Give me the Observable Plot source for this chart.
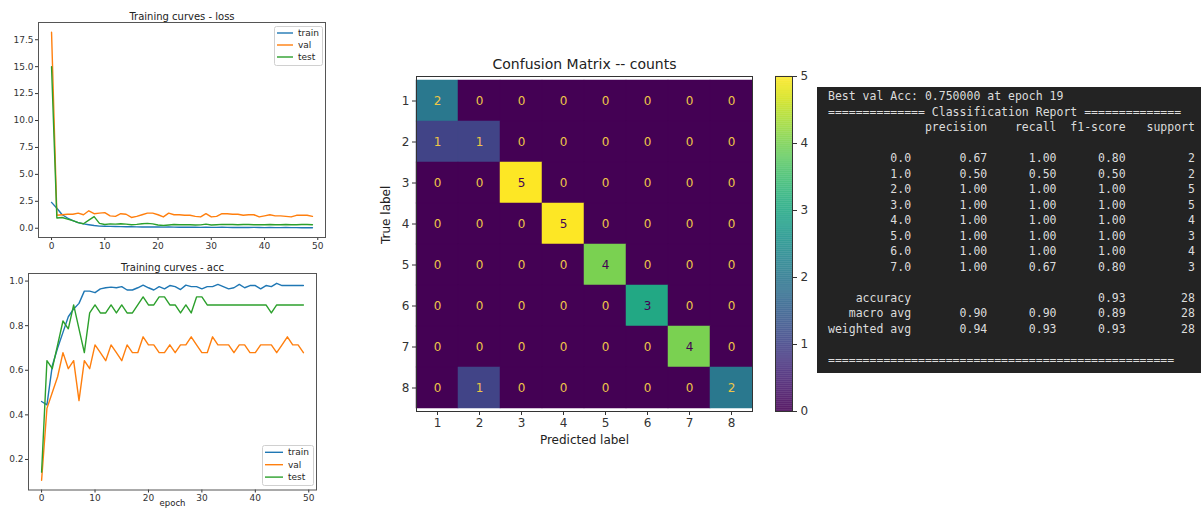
<!DOCTYPE html>
<html><head><meta charset="utf-8">
<script src="https://cdn.jsdelivr.net/npm/d3@7"></script>
<script src="https://cdn.jsdelivr.net/npm/@observablehq/plot@0.6"></script>
<style>
html,body{margin:0;padding:0;background:#fff;}
#root{position:relative;width:1201px;height:510px;overflow:hidden;font-family:"DejaVu Sans",sans-serif;}
.abs{position:absolute;}
.legend{position:absolute;}
#report{position:absolute;left:817px;top:87px;width:384px;height:286px;background:#232323;}
#report pre{margin:0;padding:2px 0 0 11px;font:11.5px/15.5px "DejaVu Sans Mono",monospace;color:#dcdcdc;}
</style></head><body><div id="root"></div>
<script>
// ---------- data ----------
const epochs = [0,1,2,3,4,5,6,7,8,9,10,11,12,13,14,15,16,17,18,19,20,21,22,23,24,25,26,27,28,29,30,31,32,33,34,35,36,37,38,39,40,41,42,43,44,45,46,47,48,49];
const trainLoss = [2.40,1.85,1.25,0.95,0.70,0.52,0.40,0.32,0.25,0.20,0.18,0.17,0.16,0.15,0.14,0.14,0.13,0.12,0.12,0.11,0.11,0.10,0.11,0.10,0.09,0.10,0.09,0.09,0.08,0.09,0.08,0.08,0.09,0.08,0.07,0.08,0.07,0.07,0.08,0.07,0.06,0.07,0.06,0.06,0.07,0.06,0.06,0.05,0.06,0.05];
const valLoss = [18.2,1.20,1.25,1.30,1.30,1.40,1.25,1.62,1.35,1.40,1.45,1.15,1.10,1.35,1.30,1.00,1.10,1.25,1.40,1.40,1.25,1.05,1.40,1.25,1.25,1.20,1.20,1.10,1.05,1.35,1.05,1.10,1.35,1.35,1.30,1.30,1.20,1.25,1.25,1.05,1.15,1.25,1.15,1.15,1.10,1.05,1.20,1.20,1.20,1.10];
const testLoss = [15.0,0.95,1.00,0.85,0.70,0.52,0.42,0.75,1.08,0.45,0.35,0.40,0.38,0.42,0.38,0.32,0.36,0.42,0.45,0.40,0.30,0.26,0.30,0.35,0.33,0.32,0.33,0.30,0.31,0.38,0.30,0.33,0.36,0.35,0.34,0.33,0.35,0.34,0.33,0.32,0.33,0.34,0.33,0.32,0.34,0.33,0.32,0.34,0.35,0.33];
const trainAcc = [0.46,0.445,0.62,0.70,0.77,0.84,0.875,0.90,0.955,0.955,0.948,0.965,0.970,0.973,0.970,0.975,0.960,0.960,0.970,0.982,0.970,0.960,0.975,0.965,0.980,0.975,0.962,0.982,0.975,0.975,0.965,0.975,0.975,0.985,0.975,0.965,0.970,0.985,0.970,0.980,0.980,0.965,0.980,0.975,0.990,0.980,0.980,0.980,0.980,0.980];
const valAcc = [0.107,0.429,0.500,0.571,0.679,0.607,0.643,0.464,0.643,0.607,0.714,0.679,0.643,0.714,0.679,0.643,0.714,0.679,0.679,0.750,0.714,0.714,0.679,0.679,0.714,0.679,0.714,0.714,0.750,0.714,0.679,0.679,0.750,0.714,0.714,0.714,0.679,0.714,0.714,0.679,0.679,0.714,0.714,0.714,0.679,0.714,0.750,0.714,0.714,0.679];
const testAcc = [0.143,0.643,0.607,0.714,0.821,0.786,0.893,0.786,0.679,0.857,0.893,0.857,0.857,0.893,0.857,0.893,0.857,0.857,0.893,0.929,0.893,0.893,0.929,0.929,0.893,0.893,0.857,0.893,0.857,0.929,0.929,0.893,0.893,0.893,0.893,0.893,0.893,0.893,0.893,0.893,0.893,0.893,0.893,0.857,0.893,0.893,0.893,0.893,0.893,0.893];
const epochTicks = [0,10,20,30,40,50];
const lossTicks = [0,2.5,5,7.5,10,12.5,15,17.5];
const accTicks = [0.2,0.4,0.6,0.8,1.0];
const seriesNames = ["train","val","test"];
const seriesColors = ["#1f77b4","#ff7f0e","#2ca02c"];

const cmLabels = ["1","2","3","4","5","6","7","8"];
const confusion = [
  [2,0,0,0,0,0,0,0],
  [1,1,0,0,0,0,0,0],
  [0,0,5,0,0,0,0,0],
  [0,0,0,5,0,0,0,0],
  [0,0,0,0,4,0,0,0],
  [0,0,0,0,0,3,0,0],
  [0,0,0,0,0,0,4,0],
  [0,1,0,0,0,0,0,2]
];
const cbTicks = [0,1,2,3,4,5];

const reportClasses = ["0.0","1.0","2.0","3.0","4.0","5.0","6.0","7.0"];
const precision = [0.67,0.50,1.00,1.00,1.00,1.00,1.00,1.00];
const recall    = [1.00,0.50,1.00,1.00,1.00,1.00,1.00,0.67];
const f1score   = [0.80,0.50,1.00,1.00,1.00,1.00,1.00,0.80];
const support   = [2,2,5,5,4,3,4,3];
const accuracyRow = [0.93,28];
const macroRow = [0.90,0.90,0.89,28];
const weightedRow = [0.94,0.93,0.93,28];

// ---------- layout helpers ----------
const root = document.getElementById("root");
function place(node, left, top) {
  const d = document.createElement("div");
  d.className = "abs"; d.style.left = left + "px"; d.style.top = top + "px";
  d.appendChild(node); root.appendChild(d); return d;
}
const axStyle = {fontFamily: "DejaVu Sans", fontSize: "9px", color: "#333", background: "transparent", overflow: "visible"};

function lineMarks(arrs) {
  return arrs.map((arr, k) => Plot.line(epochs, {x: d => d, y: (d, i) => arr[i], stroke: seriesColors[k], strokeWidth: 1.4}));
}

// ---------- loss ----------
const lossPlot = Plot.plot({
  width: 330, height: 252,
  marginLeft: 38, marginRight: 5, marginTop: 22, marginBottom: 15,
  style: axStyle,
  x: {domain: [-2.45, 51.45], ticks: epochTicks, tickSize: 3, tickPadding: 2, label: null},
  y: {domain: [-0.86, 19.1], ticks: lossTicks, tickFormat: d3.format(".1f"), tickSize: 3, tickPadding: 2, label: null},
  marks: [
    ...lineMarks([trainLoss, valLoss, testLoss]),
    Plot.frame({stroke: "#555"}),
    Plot.text(["Training curves - loss"], {text: d => d, frameAnchor: "top", dy: -10, fontSize: 10, fill: "#222"})
  ]
});
place(lossPlot, 0, 0);

// ---------- acc ----------
const accPlot = Plot.plot({
  width: 330, height: 258,
  marginLeft: 28, marginRight: 14, marginTop: 21, marginBottom: 20.5,
  style: axStyle,
  x: {domain: [-2.45, 51.45], ticks: epochTicks, tickSize: 3, tickPadding: 2, label: null},
  y: {domain: [0.063, 1.034], ticks: accTicks, tickFormat: d3.format(".1f"), tickSize: 3, tickPadding: 2, label: null},
  marks: [
    ...lineMarks([trainAcc, valAcc, testAcc]),
    Plot.frame({stroke: "#555"}),
    Plot.text(["Training curves - acc"], {text: d => d, frameAnchor: "top", dy: -9.5, fontSize: 10, fill: "#222"}),
    Plot.text(["epoch"], {text: d => d, frameAnchor: "bottom", dy: 15.5, fontSize: 8.5, fill: "#222"})
  ]
});
place(accPlot, 0, 252);

// ---------- legends (HTML/SVG) ----------
function legend(left, top, w, h, rowTop, rowGap, swLeft, swW, txtLeft) {
  const ns = "http://www.w3.org/2000/svg";
  const svg = document.createElementNS(ns, "svg");
  svg.setAttribute("width", w + 2); svg.setAttribute("height", h + 2);
  svg.setAttribute("class", "legend");
  svg.style.left = left + "px"; svg.style.top = top + "px";
  const r = document.createElementNS(ns, "rect");
  Object.entries({x: 0.5, y: 0.5, width: w, height: h, rx: 2, fill: "rgba(255,255,255,0.85)", stroke: "#d0d0d0", "stroke-width": 1}).forEach(([k, v]) => r.setAttribute(k, v));
  svg.appendChild(r);
  seriesNames.forEach((n, i) => {
    const cy = rowTop + rowGap * i;
    const l = document.createElementNS(ns, "line");
    Object.entries({x1: swLeft, x2: swLeft + swW, y1: cy, y2: cy, stroke: seriesColors[i], "stroke-width": 1.4}).forEach(([k, v]) => l.setAttribute(k, v));
    const t = document.createElementNS(ns, "text");
    Object.entries({x: txtLeft, y: cy, dy: "0.35em", fill: "#262626", "font-size": "9px", "font-family": "DejaVu Sans"}).forEach(([k, v]) => t.setAttribute(k, v));
    t.textContent = n;
    svg.appendChild(l); svg.appendChild(t);
  });
  root.appendChild(svg);
}
legend(274, 26, 48, 39, 7, 12, 3, 16, 24);
legend(262, 445, 51, 40, 7.3, 12.4, 3, 18, 26);

// ---------- confusion matrix ----------
const cmData = cmLabels.flatMap((t, i) => cmLabels.map((p, j) => ({t, p, v: confusion[i][j]})));
const cmPlot = Plot.plot({
  width: 385, height: 420,
  marginLeft: 41, marginRight: 8, marginTop: 36, marginBottom: 49,
  style: {fontFamily: "DejaVu Sans", fontSize: "12px", color: "#333", background: "transparent", overflow: "visible"},
  x: {domain: cmLabels, padding: 0, tickSize: 4, tickPadding: 3, label: null},
  y: {domain: cmLabels, padding: 0, tickSize: 4, tickPadding: 3, label: null},
  color: {type: "linear", scheme: "viridis", domain: [0, 5]},
  marks: [
    Plot.cell(cmData, {x: "p", y: "t", fill: "v", stroke: "v", strokeWidth: 0.5, inset: 0}),
    Plot.text(cmData.filter(d => d.v < 2.5), {x: "p", y: "t", text: d => String(d.v), fill: "#eec648", fontSize: 12}),
    Plot.text(cmData.filter(d => d.v >= 2.5), {x: "p", y: "t", text: d => String(d.v), fill: "#440154", fontSize: 12}),
    Plot.frame({stroke: "#333"}),
    Plot.text(["Confusion Matrix -- counts"], {text: d => d, frameAnchor: "top", dy: -17, fontSize: 14, fill: "#222"}),
    Plot.text(["Predicted label"], {text: d => d, frameAnchor: "bottom", dy: 32, fontSize: 12, fill: "#222"}),
    Plot.text(["True label"], {text: d => d, frameAnchor: "left", dx: -30, rotate: -90, fontSize: 12, fill: "#222"})
  ]
});
place(cmPlot, 375, 40);

// ---------- colorbar ----------
const cbSteps = d3.range(0, 5, 0.01);
const cbPlot = Plot.plot({
  width: 70, height: 420,
  marginLeft: 15, marginRight: 38, marginTop: 36, marginBottom: 49,
  style: {fontFamily: "DejaVu Sans", fontSize: "12px", color: "#333", background: "transparent", overflow: "visible"},
  x: {domain: [0, 1], axis: null},
  y: {domain: [0, 5], ticks: cbTicks, tickFormat: d3.format("d"), tickSize: 4, tickPadding: 4, axis: "right", label: null},
  color: {type: "linear", scheme: "viridis", domain: [0, 5]},
  marks: [
    Plot.rect(cbSteps, {x1: 0, x2: 1, y1: d => d, y2: d => d + 0.012, fill: d => d}),
    Plot.frame({stroke: "#333"})
  ]
});
place(cbPlot, 760, 40);

// ---------- classification report ----------
const f2 = v => v.toFixed(2).padStart(9);
const lines = [];
lines.push("Best val Acc: 0.750000 at epoch 19");
lines.push("============== Classification Report ==============");
lines.push(" ".repeat(13) + " " + "precision".padStart(9) + " " + "recall".padStart(9) + " " + "f1-score".padStart(9) + " " + "support".padStart(9));
lines.push("");
reportClasses.forEach((c, i) => {
  lines.push(c.padStart(12) + " " + " " + f2(precision[i]) + " " + f2(recall[i]) + " " + f2(f1score[i]) + " " + String(support[i]).padStart(9));
});
lines.push("");
lines.push("accuracy".padStart(12) + " " + " ".repeat(20) + " " + f2(accuracyRow[0]) + " " + String(accuracyRow[1]).padStart(9));
lines.push("macro avg".padStart(12) + " " + " " + f2(macroRow[0]) + " " + f2(macroRow[1]) + " " + f2(macroRow[2]) + " " + String(macroRow[3]).padStart(9));
lines.push("weighted avg".padStart(12) + " " + " " + f2(weightedRow[0]) + " " + f2(weightedRow[1]) + " " + f2(weightedRow[2]) + " " + String(weightedRow[3]).padStart(9));
lines.push("");
lines.push("=".repeat(50));
const rep = document.createElement("div"); rep.id = "report";
const pre = document.createElement("pre"); pre.textContent = lines.join("\n");
rep.appendChild(pre); root.appendChild(rep);
</script></body></html>
